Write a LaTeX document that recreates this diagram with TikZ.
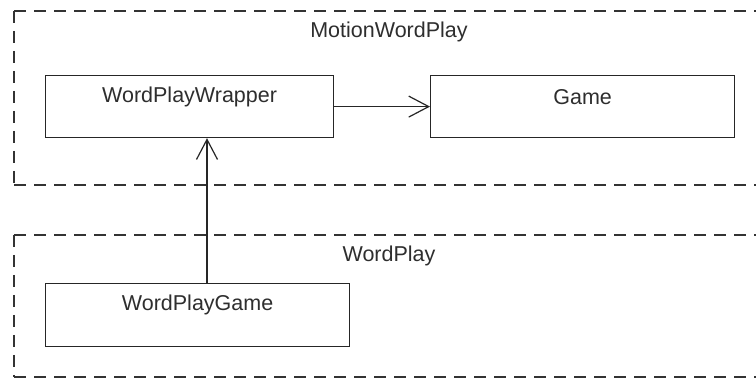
\documentclass[tikz,border=0pt]{standalone}
\usepackage{fontspec}
\setmainfont{Liberation Sans}
\usetikzlibrary{arrows.meta}
\begin{document}
\begin{tikzpicture}[x=1pt,y=1pt,
  ink/.style={black!82},
  pkgline/.style={draw=black!80, line width=1.1pt, dash pattern=on 12pt off 8pt},
  clsbox/.style={draw=black!85, line width=1.2pt, rectangle, inner sep=0pt, anchor=north west, minimum height=62pt},
  clsname/.style={text=black!82, font=\fontsize{21.5}{26}\selectfont, inner sep=0pt},
  pkgname/.style={text=black!82, font=\fontsize{21.5}{26}\selectfont, inner sep=0pt},
  dep/.style={draw=black!85, line width=1.2pt, -{Straight Barb[length=20pt,width=21pt,line width=1.2pt]}}
]
\fill[white] (0,0) rectangle (756,378);
\useasboundingbox (0,0) rectangle (756,378);
\clip (0,0) rectangle (756,378);

% package frames (open towards the right)
\draw[pkgline] (14,367) -- (800,367);
\draw[pkgline] (14,367) -- (14,193);
\draw[pkgline] (14,193) -- (800,193);
\node[pkgname] (motionlbl) at (389,346) {MotionWordPlay};

\draw[pkgline] (14,143) -- (800,143);
\draw[pkgline] (14,143) -- (14,1);
\draw[pkgline] (14,1) -- (800,1);
\node[pkgname] (wordplaylbl) at (389,122) {WordPlay};

% classes
\node[clsbox, minimum width=288pt] (wpw) at (45,303) {};
\node[clsname] (wpwname) at ([yshift=-22pt]wpw.north) {WordPlayWrapper};

\node[clsbox, minimum width=304pt] (game) at (430,303) {};
\node[clsname] (gamename) at ([yshift=-22pt]game.north) {Game};

\node[clsbox, minimum width=304pt, minimum height=63pt] (wpg) at (45,95) {};
\node[clsname] (wpgname) at ([yshift=-22pt]wpg.north) {WordPlayGame};

% dependencies
\draw[dep] (wpw.east) -- (game.west);
\draw[dep] (wpg.north -| 207,0) -- (wpw.south -| 207,0);
\end{tikzpicture}
\end{document}
